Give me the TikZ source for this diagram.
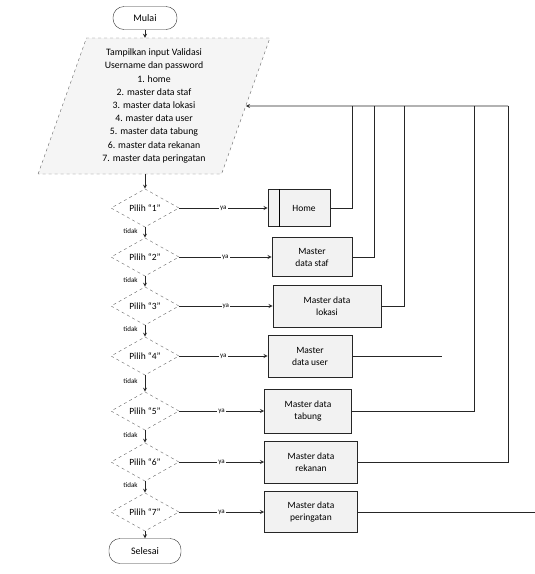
\documentclass[tikz,border=0pt]{standalone}
\usepackage{fontspec}
\setmainfont{Carlito}
\usetikzlibrary{shapes.geometric}

\tikzset{
  term/.style={draw=black!80, rounded corners=11pt, minimum width=64pt, minimum height=23pt, fill=white, font=\fontsize{10}{11}\selectfont},
  io/.style={draw=black!60, dashed, trapezium, trapezium left angle=72, trapezium right angle=108, trapezium stretches=true, minimum width=232pt, minimum height=136pt, fill=black!4, align=center, font=\fontsize{9.8}{13.2}\selectfont},
  decision/.style={draw=black!60, dashed, diamond, minimum width=68pt, minimum height=36pt, inner sep=0pt, fill=white, font=\fontsize{9.5}{10}\selectfont},
  proc/.style={draw=black!85, line width=0.9pt, fill=black!5, align=center, font=\fontsize{9.5}{12}\selectfont},
  yalbl/.style={fill=white, inner sep=1pt, font=\fontsize{7}{8}\selectfont},
  tdklbl/.style={left=6pt, inner sep=1pt, font=\fontsize{7}{8}\selectfont},
  flow/.style={draw=black!85, line width=0.8pt}
}

\begin{document}
\begin{tikzpicture}[x=1pt, y=-1pt, >=stealth]
\useasboundingbox (0,0) rectangle (535,574);

% Start and menu
\node[term] (mulai) at (145,18) {Mulai};
\node[io] (menu) at (154,106) {Tampilkan input Validasi\\Username dan password\\1. home\\2. master data staf\\3. master data lokasi\\4. master data user\\5. master data tabung\\6. master data rekanan\\7. master data peringatan};

% Decisions
\node[decision] (d1) at (145,208) {Pilih ``1''};
\node[decision] (d2) at (145,257) {Pilih ``2''};
\node[decision] (d3) at (145,306) {Pilih ``3''};
\node[decision] (d4) at (145,356) {Pilih ``4''};
\node[decision] (d5) at (145,411) {Pilih ``5''};
\node[decision] (d6) at (145,462) {Pilih ``6''};
\node[decision] (d7) at (145,512) {Pilih ``7''};

\node[term, minimum width=72pt, minimum height=25pt] (selesai) at (145,551) {Selesai};

% Master data boxes
\node[proc, minimum width=62pt, minimum height=37pt] (home) at (299,208) {\hspace{10pt}Home};
\node[proc, minimum width=80pt, minimum height=39pt] (staf) at (312,257) {Master\\data staf};
\node[proc, minimum width=108pt, minimum height=42pt] (lokasi) at (327,306) {Master data\\lokasi};
\node[proc, minimum width=84pt, minimum height=42pt] (user) at (310,356) {Master\\data user};
\node[proc, minimum width=87pt, minimum height=44pt] (tabung) at (308,411) {Master data\\tabung};
\node[proc, minimum width=93pt, minimum height=42pt] (rekanan) at (311,462) {Master data\\rekanan};
\node[proc, minimum width=93pt, minimum height=41pt] (peringatan) at (311,512) {Master data\\peringatan};
\draw[line width=0.9pt] ([xshift=12pt]home.north west) -- ([xshift=12pt]home.south west);

% Main flow
\draw[flow, ->] (mulai.south) -- (mulai.south |- menu.north);
\draw[flow, ->] (d1.north |- menu.south) -- (d1.north);
\draw[flow, ->] (d1.south) -- node[tdklbl, pos=0.35]{tidak} (d2.north);
\draw[flow, ->] (d2.south) -- node[tdklbl, pos=0.35]{tidak} (d3.north);
\draw[flow, ->] (d3.south) -- node[tdklbl, pos=0.35]{tidak} (d4.north);
\draw[flow, ->] (d4.south) -- node[tdklbl, pos=0.35]{tidak} (d5.north);
\draw[flow, ->] (d5.south) -- node[tdklbl, pos=0.35]{tidak} (d6.north);
\draw[flow, ->] (d6.south) -- node[tdklbl, pos=0.35]{tidak} (d7.north);
\draw[flow, ->] (d7.south) -- (selesai.north);

% Ya branches
\draw[flow, ->] (d1.east) -- node[yalbl]{ya} (home.west);
\draw[flow, ->] (d2.east) -- node[yalbl]{ya} (staf.west);
\draw[flow, ->] (d3.east) -- node[yalbl]{ya} (lokasi.west);
\draw[flow, ->] (d4.east) -- node[yalbl]{ya} (user.west);
\draw[flow, ->] (d5.east) -- node[yalbl]{ya} (tabung.west);
\draw[flow, ->] (d6.east) -- node[yalbl]{ya} (rekanan.west);
\draw[flow, ->] (d7.east) -- node[yalbl]{ya} (peringatan.west);

% Return lines
\coordinate (k1) at (352,106);
\coordinate (k2) at (374,106);
\coordinate (k3) at (404,106);
\coordinate (k4) at (442,356);
\coordinate (k5) at (474,106);
\coordinate (k6) at (508,106);
\coordinate (k7) at (535,512);
\draw[flow] (home.east) -| (k1);
\draw[flow] (staf.east) -| (k2);
\draw[flow] (lokasi.east) -| (k3);
\draw[flow] (user.east) -- (k4);
\draw[flow] (tabung.east) -| (k5);
\draw[flow] (rekanan.east) -| (k6);
\draw[flow] (peringatan.east) -- (k7);
\draw[flow, ->] (k6) -- (menu.east);

\end{tikzpicture}
\end{document}
